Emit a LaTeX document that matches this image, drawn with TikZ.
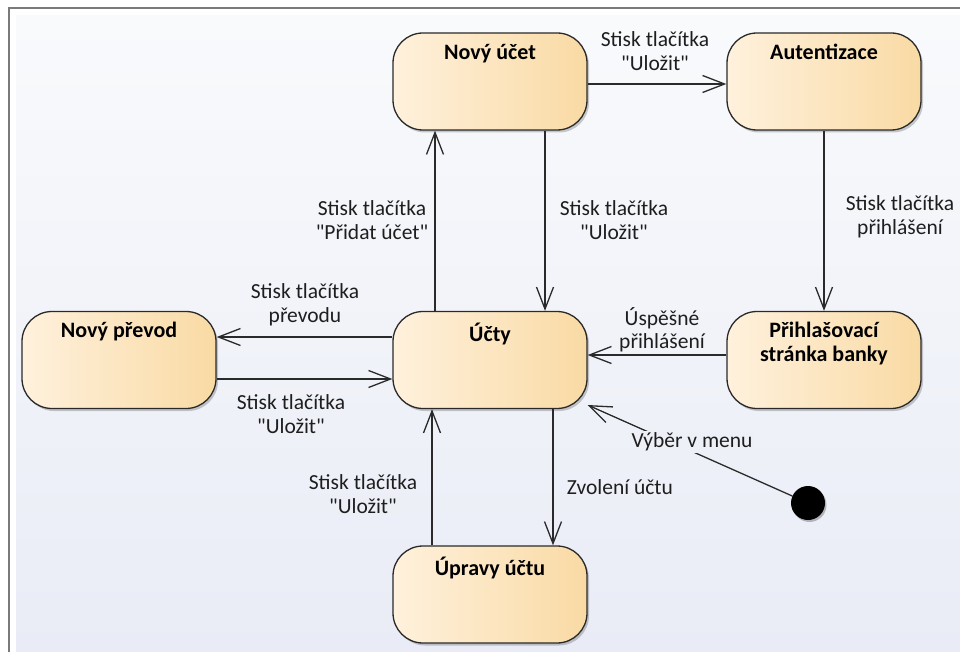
\documentclass[tikz,border=0pt]{standalone}
\usepackage{fontspec}
\setmainfont{Carlito}
% plain family without TeX ligature mapping, so " stays a straight quote
\newfontfamily\plainsans{Carlito}
\usetikzlibrary{arrows.meta,shadows}

\definecolor{framec}{HTML}{7A7A7A}
\definecolor{bgtop}{HTML}{F9FAFC}
\definecolor{bgbot}{HTML}{E9ECF6}
\definecolor{bgmid}{HTML}{EEF0F8}
\definecolor{statel}{HTML}{FFF1DD}
\definecolor{stater}{HTML}{F9DAA4}
\definecolor{linec}{HTML}{2A2A2A}
\definecolor{textc}{HTML}{1E1E1E}

\tikzset{
  state/.style={draw=linec, line width=1.3pt, rounded corners=30pt,
    minimum width=194pt, minimum height=97pt, inner sep=0pt,
    left color=statel, right color=stater,
    drop shadow={shadow xshift=2pt, shadow yshift=-2.5pt, opacity=0.2, fill=black}},
  titled/.style={label={[statetitle]north:#1}},
  statetitle/.style={anchor=north, yshift=-9.5pt, inner sep=2pt, align=center,
    font=\plainsans\fontsize{22}{24}\selectfont\bfseries, text=black},
  trans/.style={draw=linec, line width=1.3pt,
    -{Straight Barb[length=22pt,width=17pt,line width=1.3pt]}},
  lbl/.style={align=center, inner sep=0pt, text=textc,
    font=\plainsans\fontsize{21.5}{23.5}\selectfont},
  initial/.style={circle, fill=black, minimum size=34pt, inner sep=0pt,
    drop shadow={shadow xshift=1.5pt, shadow yshift=-2pt, opacity=0.25, fill=black}}
}

\begin{document}
\begin{tikzpicture}[x=1pt, y=-1pt]
  % canvas and frame
  \useasboundingbox (0,0) rectangle (960,652);
  \fill[white] (0,0) rectangle (960,652);
  \shade[top color=bgtop, bottom color=bgbot] (16,16) rectangle (960,652);
  \draw[framec, line width=2pt] (8.5,652) -- (8.5,8.5) -- (960,8.5);

  % states
  \node[state, titled={Nový účet}]   (nu) at (490,81.5) {};
  \node[state, titled={Autentizace}] (au) at (824,81.5) {};
  \node[state, titled={Nový převod}] (np) at (119,360) {};
  \node[state, titled={Účty}]        (uc) at (490,360) {};
  \node[state, titled={Přihlašovací\\stránka banky}] (pr) at (824,360) {};
  \node[state, titled={Úpravy účtu}] (up) at (490,594.5) {};
  \node[initial] (init) at (808,503) {};
  \coordinate (ucin) at ([yshift=-45pt]uc.east);

  % transitions (shifts are in page points: negative yshift moves down)
  \draw[trans] ([yshift=-2.5pt]nu.east) -- ([yshift=-2.5pt]au.west);
  \draw[trans] (au.south) -- (pr.north);
  \draw[trans] ([yshift=5pt]pr.west) -- ([yshift=5pt]uc.east);
  \draw[trans] ([xshift=-55pt]uc.north) -- ([xshift=-55pt]nu.south);
  \draw[trans] ([xshift=55pt]nu.south) -- ([xshift=55pt]uc.north);
  \draw[trans] ([yshift=23pt]uc.west) -- ([yshift=23pt]np.east);
  \draw[trans] ([yshift=-19pt]np.east) -- ([yshift=-19pt]uc.west);
  \draw[trans] ([xshift=-58pt]up.north) -- ([xshift=-58pt]uc.south);
  \draw[trans] ([xshift=63pt]uc.south) -- ([xshift=63pt]up.north);
  \draw[trans] (init) -- (ucin);

  % transition labels
  \node[lbl] (l1)  at (655,51)  {Stisk tlačítka\\"Uložit"};
  \node[lbl] (l2)  at (900,217) {Stisk tlačítka\\přihlášení};
  \node[lbl] (l3)  at (662,330) {Úspěšné\\přihlášení};
  \node[lbl] (l4)  at (372,220) {Stisk tlačítka\\"Přidat účet"};
  \node[lbl] (l5)  at (614,220) {Stisk tlačítka\\"Uložit"};
  \node[lbl] (l6)  at (305,305) {Stisk tlačítka\\převodu};
  \node[lbl] (l7)  at (291,414) {Stisk tlačítka\\"Uložit"};
  \node[lbl] (l8)  at (363,494) {Stisk tlačítka\\"Uložit"};
  \node[lbl] (l9)  at (620,487) {Zvolení účtu};
  \node[lbl, fill=bgmid, inner sep=1.5pt] (l10) at (692,442) {Výběr v menu};
\end{tikzpicture}
\end{document}
